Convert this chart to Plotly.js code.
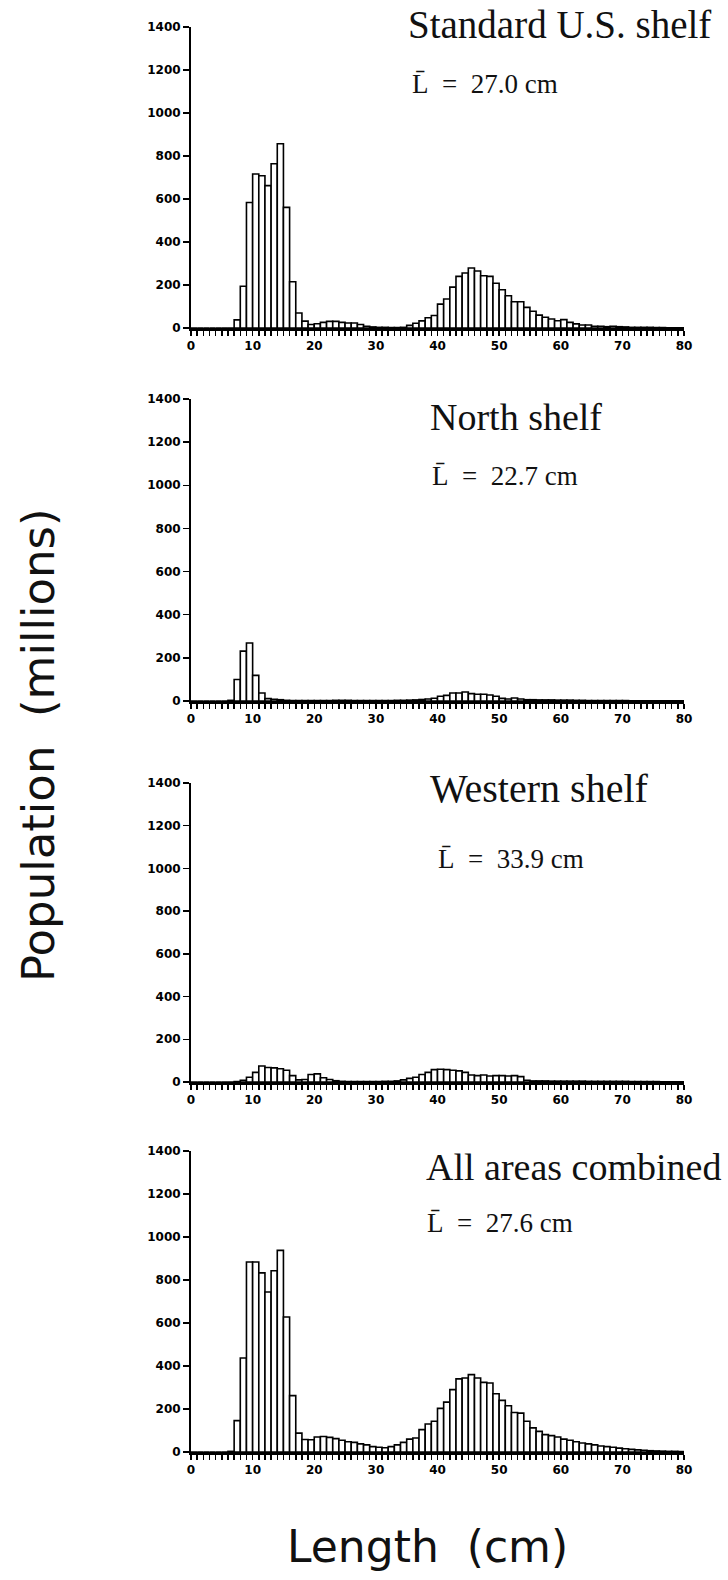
<!DOCTYPE html>
<html>
<head>
<meta charset="utf-8">
<script src="https://cdn.plot.ly/plotly-3.0.1.min.js"></script>
<style>
  html, body { margin: 0; padding: 0; background: #fff; }
  #chart { width: 728px; height: 1580px; }
</style>
</head>
<body>
<div id="chart"></div>
<script>
// Length classes (cm); each bar covers [length, length + 1)
const lengthBins = [
  0, 1, 2, 3, 4, 5, 6, 7, 8, 9, 10, 11, 12, 13, 14, 15, 16, 17, 18, 19,
  20, 21, 22, 23, 24, 25, 26, 27, 28, 29, 30, 31, 32, 33, 34, 35, 36, 37, 38, 39,
  40, 41, 42, 43, 44, 45, 46, 47, 48, 49, 50, 51, 52, 53, 54, 55, 56, 57, 58, 59,
  60, 61, 62, 63, 64, 65, 66, 67, 68, 69, 70, 71, 72, 73, 74, 75, 76, 77, 78, 79
];

// Population (millions) per length class
const standardShelf = [
  0, 0, 0, 0, 0, 0, 0, 38, 194, 584, 716, 708, 662, 764, 857, 561, 215, 70, 32, 16,
  20, 26, 31, 31, 26, 23, 23, 16, 8, 5, 3, 3, 2, 2, 3, 12, 22, 33, 48, 58,
  111, 135, 190, 240, 256, 279, 265, 243, 240, 208, 178, 150, 122, 122, 96, 78, 60, 50, 42, 34,
  39, 26, 19, 14, 14, 8, 8, 6, 8, 6, 5, 3, 3, 3, 3, 2, 2, 1, 1, 1
];
const northShelf = [
  0, 0, 0, 0, 0, 0, 3, 100, 231, 269, 119, 37, 11, 8, 6, 3, 2, 2, 2, 2,
  2, 2, 2, 3, 3, 3, 2, 2, 2, 2, 2, 2, 2, 3, 3, 4, 5, 7, 9, 13,
  22, 26, 37, 37, 42, 34, 31, 31, 28, 22, 12, 9, 14, 9, 6, 6, 5, 5, 5, 4,
  4, 4, 3, 3, 2, 2, 2, 2, 2, 2, 2, 1, 1, 1, 1, 1, 1, 1, 1, 1
];
const westernShelf = [
  0, 0, 0, 0, 0, 0, 0, 2, 8, 22, 45, 75, 68, 66, 62, 55, 30, 10, 12, 35,
  38, 20, 12, 6, 3, 2, 2, 2, 2, 2, 2, 3, 3, 5, 10, 17, 22, 35, 45, 58,
  60, 58, 55, 52, 45, 33, 30, 33, 28, 30, 30, 28, 30, 25, 8, 5, 5, 5, 4, 4,
  4, 4, 4, 4, 3, 3, 3, 3, 3, 3, 3, 2, 2, 2, 2, 2, 1, 1, 1, 1
];
const allAreas = [
  0, 0, 0, 0, 0, 0, 3, 146, 437, 884, 884, 833, 744, 843, 938, 628, 262, 88, 58, 57,
  70, 72, 68, 62, 55, 48, 45, 38, 33, 25, 22, 20, 25, 33, 45, 60, 65, 104, 130, 143,
  203, 232, 290, 340, 344, 360, 344, 324, 321, 271, 240, 215, 184, 181, 143, 112, 96, 81, 76, 70,
  60, 55, 48, 42, 38, 33, 28, 25, 22, 18, 15, 12, 10, 8, 6, 5, 4, 3, 3, 2
];

const panelNames = ["Standard U.S. shelf", "North shelf", "Western shelf", "All areas combined"];
const meanLengths = ["27.0", "22.7", "33.9", "27.6"];
const yTickVals = [0, 200, 400, 600, 800, 1000, 1200, 1400];
const xTickVals = [0, 10, 20, 30, 40, 50, 60, 70, 80];
const yTitle = "Population\u00A0\u00A0(millions)";
const xTitle = "Length\u00A0\u00A0(cm)";

const series = [standardShelf, northShelf, westernShelf, allAreas];

// Page geometry (pixels) for the four stacked panels
const W = 728, H = 1580;
const plotLeft = 191, plotRight = 684;
const panelBox = [
  { top: 27,   bottom: 328 },
  { top: 399,  bottom: 701 },
  { top: 783,  bottom: 1082 },
  { top: 1151, bottom: 1452 }
];
// Label placement: left edge x, text baseline y, font size
const namePos = [
  { x: 406, base: 38,   size: 39 },
  { x: 428, base: 430,  size: 38 },
  { x: 428, base: 802,  size: 40 },
  { x: 424, base: 1180, size: 38 }
];
const meanPos = [
  { x: 410, base: 93 },
  { x: 430, base: 485 },
  { x: 436, base: 868 },
  { x: 425, base: 1232 }
];
const meanSize = 27;

const px = x => x / W;
const py = y => 1 - y / H;

const tickFont = { family: "DejaVu Sans", size: 12, color: "#000", weight: "bold" };

const traces = [];
const layout = {
  width: W,
  height: H,
  margin: { l: 0, r: 0, t: 0, b: 0 },
  paper_bgcolor: "#fff",
  plot_bgcolor: "rgba(0,0,0,0)",
  showlegend: false,
  bargap: 0,
  font: { family: "DejaVu Sans", color: "#000" },
  annotations: []
};

series.forEach((vals, i) => {
  const s = i === 0 ? "" : String(i + 1);
  traces.push({
    type: "bar",
    x: lengthBins,
    y: vals,
    offset: 0,
    width: 1,
    xaxis: "x" + s,
    yaxis: "y" + s,
    marker: { color: "#fff", line: { color: "#000", width: 1.6 } },
    hoverinfo: "skip"
  });

  layout["xaxis" + s] = {
    domain: [px(plotLeft), px(plotRight)],
    anchor: "y" + s,
    range: [0, 80],
    tickmode: "array",
    tickvals: xTickVals,
    ticks: "outside",
    ticklen: 5,
    tickwidth: 1.5,
    tickcolor: "#000",
    minor: { tickmode: "linear", tick0: 0, dtick: 1, ticks: "outside", ticklen: 5, tickwidth: 1.5, tickcolor: "#000", showgrid: false },
    showline: true,
    linewidth: 2.5,
    linecolor: "#000",
    showgrid: false,
    zeroline: false,
    tickfont: tickFont,
    automargin: false,
    fixedrange: true
  };
  layout["yaxis" + s] = {
    domain: [py(panelBox[i].bottom), py(panelBox[i].top)],
    anchor: "x" + s,
    range: [0, 1400],
    tickmode: "array",
    tickvals: yTickVals,
    ticks: "outside",
    ticklen: 6,
    tickwidth: 1.5,
    tickcolor: "#000",
    showline: true,
    linewidth: 2,
    linecolor: "#000",
    showgrid: false,
    zeroline: false,
    tickfont: tickFont,
    automargin: false,
    fixedrange: true
  };

  // Area name and mean length
  const np = namePos[i];
  layout.annotations.push({
    xref: "paper", yref: "paper",
    x: px(np.x), y: py(np.base - 0.3375 * np.size),
    xanchor: "left", yanchor: "middle",
    text: panelNames[i].replace(/ /g, "\u00A0"),
    showarrow: false,
    font: { family: "Liberation Serif", size: np.size, color: "#111" }
  });
  layout.annotations.push({
    xref: "paper", yref: "paper",
    x: px(meanPos[i].x), y: py(meanPos[i].base - 0.3375 * meanSize),
    xanchor: "left", yanchor: "middle",
    text: "L\u0304\u00A0\u00A0=\u00A0\u00A0" + meanLengths[i] + "\u00A0cm",
    showarrow: false,
    font: { family: "Liberation Serif", size: meanSize, color: "#111" }
  });
});

// Shared axis titles
layout.annotations.push({
  xref: "paper", yref: "paper",
  x: px(38), y: py(745),
  xanchor: "center", yanchor: "middle",
  textangle: -90,
  text: yTitle,
  showarrow: false,
  font: { family: "DejaVu Sans", size: 45, color: "#111" }
});
layout.annotations.push({
  xref: "paper", yref: "paper",
  x: px(427), y: py(1562 - 0.346 * 44),
  xanchor: "center", yanchor: "middle",
  text: xTitle,
  showarrow: false,
  font: { family: "DejaVu Sans", size: 44, color: "#111" }
});

Plotly.newPlot("chart", traces, layout, { staticPlot: true, displayModeBar: false });
</script>
</body>
</html>
